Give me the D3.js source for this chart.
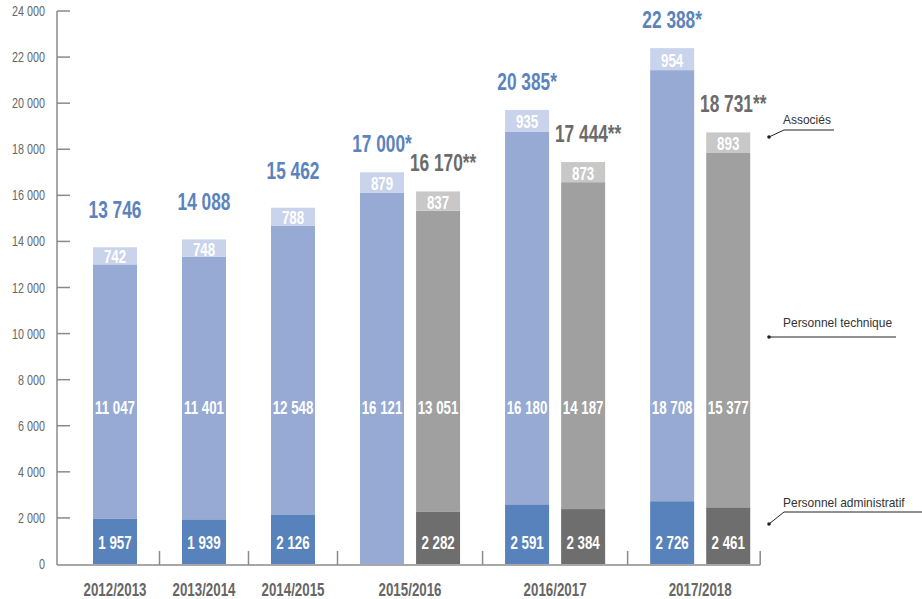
<!DOCTYPE html>
<html>
<head>
<meta charset="utf-8">
<script src="https://cdn.jsdelivr.net/npm/d3@7"></script>
<style>
body { margin: 0; background: #fff; }
svg { display: block; }
text { font-family: "Liberation Sans", Arial, sans-serif; }
</style>
</head>
<body>
<svg id="svg0" width="922" height="599"></svg>
<script>

// data
var years = ['2012/2013', '2013/2014', '2014/2015', '2015/2016', '2016/2017', '2017/2018'];

// blue series, one value per year
var blueAdmin = [1957, 1939, 2126, null, 2591, 2726];
var blueTech = [11047, 11401, 12548, 16121, 16180, 18708];
var blueAssoc = [742, 748, 788, 879, 935, 954];
var blueTotal = [13746, 14088, 15462, 17000, 20385, 22388];
var blueNote = ['', '', '', '*', '*', '*'];

// grey series, only from 2015/2016
var greyYears = ['2015/2016', '2016/2017', '2017/2018'];
var greyAdmin = [2282, 2384, 2461];
var greyTech = [13051, 14187, 15377];
var greyAssoc = [837, 873, 893];
var greyTotal = [16170, 17444, 18731];
var greyNote = ['**', '**', '**'];

var yTicks = d3.range(0, 24001, 2000);

var legendLabels = ['Associés', 'Personnel technique', 'Personnel administratif'];

var colors = {
    blue: ['#5882bb', '#96aad4', '#c9d3eb'],
    grey: ['#6e6e6e', '#a0a0a0', '#c8c8c8']
};
var totalColor = { blue: '#5b83bd', grey: '#6b6b6b' };

var fr = d3.formatLocale({ decimal: ',', thousands: ' ', grouping: [3], currency: ['', ' €'] });
var fmt = fr.format(',d');

// no condensed font here, so squeeze the glyphs
function squeeze(sel, k) {
    sel.each(function() {
        var w = this.getComputedTextLength();
        d3.select(this)
            .attr('textLength', w * k)
            .attr('lengthAdjust', 'spacingAndGlyphs');
    });
}

// build bar list
var bars = [];
years.forEach(function(y, i) {
    bars.push({ year: y, series: 'blue', values: [blueAdmin[i], blueTech[i], blueAssoc[i]], total: blueTotal[i], note: blueNote[i] });
    var g = greyYears.indexOf(y);
    if (g >= 0) {
        bars.push({ year: y, series: 'grey', values: [greyAdmin[g], greyTech[g], greyAssoc[g]], total: greyTotal[g], note: greyNote[g] });
    }
});

// group layout in units (a one-bar year = 1 unit)
var pairStep = 0.63;
var groups = [];
var cursor = 0;
years.forEach(function(y) {
    var gb = bars.filter(function(b) { return b.year === y; });
    var w = 1 + (gb.length - 1) * pairStep;
    groups.push({ year: y, start: cursor, width: w, bars: gb });
    gb.forEach(function(b, k) {
        b.pos = cursor + w / 2 + (k - (gb.length - 1) / 2) * pairStep;
        b.single = gb.length === 1;
    });
    cursor += w;
});

var svg0 = d3.select('#svg0').append('g');

var x = d3.scaleLinear()
    .domain([0, cursor])
    .range([70.5, 70.5 + cursor * 89]);

var y = d3.scaleLinear()
    .domain([0, 24000])
    .range([564, 11]);

var barW = 44;
var axisColor = '#8a8a8a';

// stacked segments
bars.forEach(function(b) {
    var base = 0;
    b.segs = b.values.map(function(v, k) {
        var s = { v: v, y0: base, y1: base + (v || 0), k: k };
        base += v || 0;
        return s;
    });
    b.top = base;
});

var barG = svg0.selectAll('.bar')
    .data(bars)
    .enter()
    .append('g')
    .attr('class', 'bar')
    .attr('transform', function(d) { return 'translate(' + (x(d.pos) - barW / 2) + ',0)'; });

barG.selectAll('rect')
    .data(function(d) { return d.segs.filter(function(s) { return s.v; }).map(function(s) { s.series = d.series; return s; }); })
    .enter()
    .append('rect')
    .attr('x', 0)
    .attr('width', barW)
    .attr('y', function(s) { return y(s.y1); })
    .attr('height', function(s) { return y(s.y0) - y(s.y1); })
    .attr('fill', function(s) { return colors[s.series][s.k]; });

// segment labels
barG.each(function(d) {
    var g = d3.select(this);
    var lab = function(v, ly) {
        g.append('text')
            .attr('class', 'seglab')
            .attr('x', barW / 2)
            .attr('y', ly)
            .attr('text-anchor', 'middle')
            .attr('dominant-baseline', 'central')
            .attr('fill', '#fff')
            .attr('font-weight', 'bold')
            .attr('font-size', 19)
            .text(fmt(v));
    };
    if (d.values[0]) lab(d.values[0], 542);
    lab(d.values[1], 407);
    var a = d.segs[2];
    lab(d.values[2], (y(a.y0) + y(a.y1)) / 2 + 1);

    // total above the bar
    g.append('text')
        .attr('class', 'total')
        .attr('x', barW / 2 + (d.series === 'grey' ? 5 : 0))
        .attr('y', y(d.top) - (d.single ? 29 : 20))
        .attr('text-anchor', 'middle')
        .attr('fill', totalColor[d.series])
        .attr('font-weight', 'bold')
        .attr('font-size', 24)
        .text(fmt(d.total) + d.note);
});

squeeze(svg0.selectAll('.seglab'), 0.7);
squeeze(svg0.selectAll('.total'), 0.72);

// y axis
svg0.append('line')
    .attr('x1', 57).attr('x2', 57)
    .attr('y1', y(24000)).attr('y2', y(0) + 1)
    .attr('stroke', axisColor)
    .attr('stroke-width', 1.5);

var yt = svg0.selectAll('.ytick')
    .data(yTicks)
    .enter()
    .append('g')
    .attr('class', 'ytick')
    .attr('transform', function(d) { return 'translate(0,' + y(d) + ')'; });

yt.filter(function(d) { return d > 0; })
    .append('line')
    .attr('x1', 57).attr('x2', 70)
    .attr('stroke', axisColor)
    .attr('stroke-width', 1.5);

yt.append('text')
    .attr('x', 45)
    .attr('text-anchor', 'end')
    .attr('dominant-baseline', 'central')
    .attr('fill', '#666')
    .attr('font-size', 14)
    .text(function(d) { return fmt(d); })
    .call(squeeze, 0.77);

// x axis baseline and separators
var lastBar = bars[bars.length - 1];
var xEnd = x(lastBar.pos) + barW / 2 + 10;

svg0.append('line')
    .attr('x1', 57).attr('x2', xEnd)
    .attr('y1', y(0) + 1).attr('y2', y(0) + 1)
    .attr('stroke', axisColor)
    .attr('stroke-width', 1.5);

var seps = groups.slice(1).map(function(g) { return x(g.start); });
seps.push(xEnd);

svg0.selectAll('.sep')
    .data(seps)
    .enter()
    .append('line')
    .attr('class', 'sep')
    .attr('x1', function(d) { return d; })
    .attr('x2', function(d) { return d; })
    .attr('y1', y(0) - 13)
    .attr('y2', y(0) + 1)
    .attr('stroke', axisColor)
    .attr('stroke-width', 1.5);

svg0.selectAll('.xlab')
    .data(groups)
    .enter()
    .append('text')
    .attr('class', 'xlab')
    .attr('x', function(d) { return x(d.start + d.width / 2); })
    .attr('y', 596)
    .attr('text-anchor', 'middle')
    .attr('fill', '#666')
    .attr('font-weight', 'bold')
    .attr('font-size', 18)
    .text(function(d) { return d.year; })
    .call(squeeze, 0.74);

// legend callouts on the right
var callouts = [
    { label: legendLabels[0], dot: [769, 137], elbow: [784, 130], end: 834, ty: 124 },
    { label: legendLabels[1], dot: [769, 337], elbow: [769, 337], end: 896, ty: 327 },
    { label: legendLabels[2], dot: [769, 524], elbow: [784, 512], end: 922, ty: 507 }
];

var lg = svg0.selectAll('.callout')
    .data(callouts)
    .enter()
    .append('g')
    .attr('class', 'callout');

lg.append('polyline')
    .attr('points', function(d) { return [d.dot, d.elbow, [d.end, d.elbow[1]]].join(' '); })
    .attr('fill', 'none')
    .attr('stroke', '#222')
    .attr('stroke-width', 1);

lg.append('circle')
    .attr('cx', function(d) { return d.dot[0]; })
    .attr('cy', function(d) { return d.dot[1]; })
    .attr('r', 1.8)
    .attr('fill', '#222');

lg.append('text')
    .attr('x', 783)
    .attr('y', function(d) { return d.ty; })
    .attr('fill', '#333')
    .attr('font-size', 13)
    .text(function(d) { return d.label; })
    .call(squeeze, 0.92);

</script>
</body>
</html>
